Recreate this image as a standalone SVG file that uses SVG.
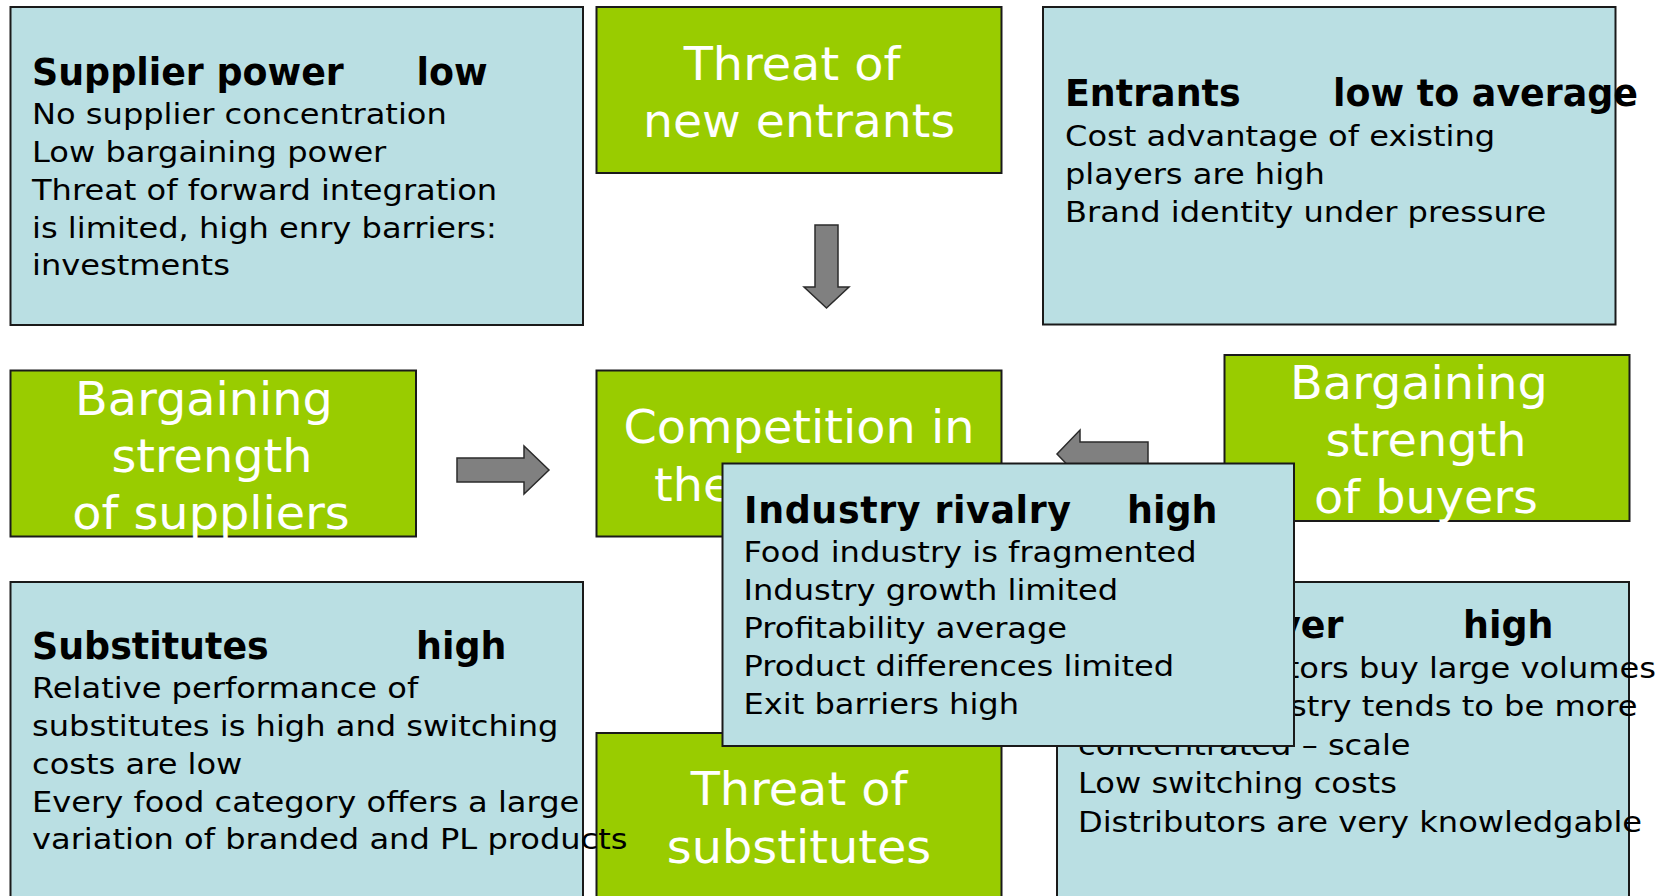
<svg xmlns="http://www.w3.org/2000/svg" width="1669" height="896" viewBox="0 0 1669 896">
  <style>
    .blue { fill: #BADFE3; stroke: #1a1a1a; stroke-width: 2; }
    .green { fill: #99CC00; stroke: #1a1a1a; stroke-width: 2; }
    .ttl { font-family: "DejaVu Sans", Verdana, sans-serif; font-weight: bold; font-size: 36.4px; fill: #000; }
    .txt { font-family: "DejaVu Sans", Verdana, sans-serif; font-size: 28.4px; fill: #000; }
    .lbl { font-family: "DejaVu Sans", Verdana, sans-serif; font-size: 45.5px; fill: #fff; text-anchor: middle; }
    .arrow { fill: #808080; stroke: #2b2b2b; stroke-width: 1.5; }
  </style>
  <rect width="1669" height="896" fill="#fff"/>

  <!-- Supplier power detail -->
  <g id="supplier-power">
    <rect class="blue" x="10.5" y="7" width="572.5" height="318"/>
    <text class="ttl" x="32" y="85">Supplier power</text>
    <text class="ttl" x="416.5" y="85">low</text>
    <g transform="translate(32 0) scale(1.13 1)">
      <text class="txt" y="124">No supplier concentration</text>
      <text class="txt" y="162">Low bargaining power</text>
      <text class="txt" y="200">Threat of forward integration</text>
      <text class="txt" y="238">is limited, high enry barriers:</text>
      <text class="txt" y="275.5">investments</text>
    </g>
  </g>

  <!-- Threat of new entrants -->
  <g id="threat-new-entrants">
    <rect class="green" x="596.5" y="7" width="405" height="166"/>
    <text class="lbl" transform="translate(792 80) scale(1.05 1)">Threat of</text>
    <text class="lbl" transform="translate(799 137) scale(1.04 1)">new entrants</text>
  </g>

  <!-- Entrants detail -->
  <g id="entrants">
    <rect class="blue" x="1043" y="7" width="572.5" height="317.5"/>
    <text class="ttl" x="1065" y="106">Entrants</text>
    <text class="ttl" x="1333" y="106">low to average</text>
    <g transform="translate(1065 0) scale(1.13 1)">
      <text class="txt" y="146">Cost advantage of existing</text>
      <text class="txt" y="184">players are high</text>
      <text class="txt" y="222">Brand identity under pressure</text>
    </g>
  </g>

  <!-- Bargaining strength of suppliers -->
  <g id="bargaining-suppliers">
    <rect class="green" x="10.5" y="370.5" width="405.5" height="166"/>
    <text class="lbl" transform="translate(204 415) scale(1.05 1)">Bargaining</text>
    <text class="lbl" transform="translate(212 472) scale(1.05 1)">strength</text>
    <text class="lbl" transform="translate(211 528.5) scale(1.05 1)">of suppliers</text>
  </g>

  <!-- Competition in the industry -->
  <g id="competition">
    <rect class="green" x="596.5" y="370.5" width="405" height="166"/>
    <text class="lbl" transform="translate(799 443) scale(1.05 1)">Competition in</text>
    <text class="lbl" style="text-anchor: start" transform="translate(654 501) scale(1.05 1)">the</text>
  </g>

  <!-- Bargaining strength of buyers -->
  <g id="bargaining-buyers">
    <rect class="green" x="1224.5" y="355" width="405" height="166"/>
    <text class="lbl" transform="translate(1419 399) scale(1.05 1)">Bargaining</text>
    <text class="lbl" transform="translate(1426 456) scale(1.05 1)">strength</text>
    <text class="lbl" transform="translate(1426 513) scale(1.05 1)">of buyers</text>
  </g>

  <!-- Buyer power detail -->
  <g id="buyer-power">
    <rect class="blue" x="1057" y="582" width="572" height="330"/>
    <text class="ttl" x="1277" y="638">ver</text>
    <text class="ttl" x="1463" y="638">high</text>
    <text class="txt" text-anchor="end" transform="translate(1656 678) scale(1.13 1)">tors buy large volumes</text>
    <text class="txt" text-anchor="end" transform="translate(1637.5 716.4) scale(1.13 1)">stry tends to be more</text>
    <g transform="translate(1078 0) scale(1.13 1)">
      <text class="txt" y="754.8">concentrated – scale</text>
      <text class="txt" y="793.2">Low switching costs</text>
      <text class="txt" y="831.6">Distributors are very knowledgable</text>
    </g>
  </g>

  <!-- Threat of substitutes -->
  <g id="threat-substitutes">
    <rect class="green" x="596.5" y="733" width="405" height="180"/>
    <text class="lbl" transform="translate(799 805) scale(1.05 1)">Threat of</text>
    <text class="lbl" transform="translate(799 863) scale(1.05 1)">substitutes</text>
  </g>

  <!-- Substitutes detail -->
  <g id="substitutes">
    <rect class="blue" x="10.5" y="582" width="572.5" height="330"/>
    <text class="ttl" x="32" y="658.5">Substitutes</text>
    <text class="ttl" x="416" y="658.5">high</text>
    <g transform="translate(32 0) scale(1.13 1)">
      <text class="txt" y="698.3">Relative performance of</text>
      <text class="txt" y="736">substitutes is high and switching</text>
      <text class="txt" y="773.8">costs are low</text>
      <text class="txt" y="811.6">Every food category offers a large</text>
      <text class="txt" y="849.4">variation of branded and PL products</text>
    </g>
  </g>

  <!-- Block arrows pointing into the centre -->
  <g id="connectors">
    <polygon class="arrow" points="815,225 838,225 838,287 849,287 826.5,308 804,287 815,287"/>
    <polygon class="arrow" points="457,458 524,458 524,446 549,470 524,494 524,482 457,482"/>
    <polygon class="arrow" points="1148,442 1080,442 1080,430 1057,454 1080,478 1080,466 1148,466"/>
  </g>

  <!-- Industry rivalry detail, laid over the centre -->
  <g id="industry-rivalry">
    <rect class="blue" x="722.5" y="463.5" width="571.5" height="282.5"/>
    <text class="ttl" x="744" y="523" textLength="327" lengthAdjust="spacing">Industry rivalry</text>
    <text class="ttl" x="1127" y="523">high</text>
    <g transform="translate(743.5 0) scale(1.13 1)">
      <text class="txt" y="562.5">Food industry is fragmented</text>
      <text class="txt" y="600.5">Industry growth limited</text>
      <text class="txt" y="638.5">Profitability average</text>
      <text class="txt" y="676.5">Product differences limited</text>
      <text class="txt" y="714.5">Exit barriers high</text>
    </g>
  </g>
</svg>
